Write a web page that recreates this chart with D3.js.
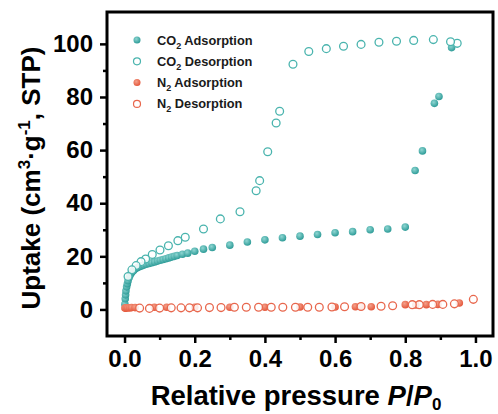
<!DOCTYPE html>
<html>
<head>
<meta charset="utf-8">
<script src="https://cdn.jsdelivr.net/npm/d3@7"></script>
<style>
  body { margin: 0; background: #fff; }
  svg text { font-family: Arial, "Liberation Sans", sans-serif; }
</style>
</head>
<body>
<svg id="chart" width="498" height="414"></svg>
<script>
// CO2 adsorption (filled teal)
const co2AdsP = [0.001,0.002,0.003,0.004,0.006,0.008,0.010,0.013,0.016,0.020,0.025,0.030,0.036,0.042,0.048,0.055,0.062,0.070,0.078,0.086,0.094,0.102,0.110,0.118,0.126,0.134,0.142,0.150,0.165,0.180,0.200,0.225,0.250,0.300,0.350,0.400,0.450,0.500,0.550,0.600,0.650,0.700,0.750,0.800,0.828,0.849,0.883,0.896,0.932];
const co2AdsU = [2.0,4.0,5.5,7.0,8.5,9.7,10.8,12.0,13.0,13.8,14.6,15.2,15.7,16.1,16.4,16.7,17.0,17.3,17.6,17.9,18.2,18.5,18.8,19.1,19.4,19.7,20.0,20.3,20.8,21.2,21.9,22.7,23.3,24.2,25.4,26.2,27.0,27.6,28.2,28.9,29.3,30.0,30.3,31.0,52.3,59.7,77.6,80.2,98.6];

// CO2 desorption (open teal)
const co2DesP = [0.948,0.929,0.880,0.824,0.775,0.725,0.674,0.624,0.575,0.525,0.480,0.442,0.432,0.408,0.385,0.375,0.329,0.273,0.225,0.173,0.152,0.125,0.101,0.079,0.060,0.047,0.033,0.021,0.010];
const co2DesU = [100.2,100.8,101.6,101.3,101.0,100.6,99.8,99.1,98.2,97.1,92.3,74.6,70.2,59.4,48.5,44.7,36.8,34.1,30.3,27.2,25.9,24.0,22.4,20.7,19.0,18.0,16.5,14.9,12.4];

// N2 adsorption (filled red)
const n2AdsP = [0.001,0.003,0.006,0.010,0.015,0.020,0.030,0.085,0.120,0.200,0.300,0.400,0.500,0.600,0.658,0.674,0.703,0.800,0.830,0.860,0.893,0.954];
const n2AdsU = [0.5,0.5,0.6,0.6,0.6,0.7,0.7,0.8,0.8,0.8,0.8,0.8,0.9,0.9,1.0,1.1,1.0,1.8,1.7,1.8,1.9,2.4];

// N2 desorption (open red)
const n2DesP = [0.994,0.940,0.907,0.878,0.840,0.820,0.764,0.731,0.674,0.627,0.591,0.555,0.522,0.487,0.451,0.418,0.382,0.347,0.313,0.275,0.242,0.208,0.185,0.161,0.133,0.100,0.071,0.043];
const n2DesU = [3.8,2.1,1.9,1.9,1.8,1.8,1.4,1.2,1.1,1.0,0.9,0.8,0.8,0.8,0.8,0.8,0.8,0.8,0.8,0.7,0.7,0.6,0.6,0.6,0.6,0.5,0.4,0.5];

const xTicks = [0, 0.2, 0.4, 0.6, 0.8, 1.0];
const xMinor = [0.1, 0.3, 0.5, 0.7, 0.9];
const yTicks = [0, 20, 40, 60, 80, 100];
const yMinor = [10, 30, 50, 70, 90];

const teal = "#2e9c98", tealOpen = "#4ab4ae", red = "#e4563a", redOpen = "#e8674d";

const svg = d3.select("#chart");
const mLeft = 107, mRight = 493, mTop = 12, mBottom = 336;

const x = d3.scaleLinear().domain([-0.05, 1.05]).range([mLeft, mRight]);
const y = d3.scaleLinear().domain([-10, 112]).range([mBottom, mTop]);

// gradients for the shiny filled dots
const defs = svg.append("defs");
function grad(id, light, dark) {
  const g = defs.append("radialGradient").attr("id", id)
    .attr("cx", "40%").attr("cy", "35%").attr("r", "65%");
  g.append("stop").attr("offset", "0%").attr("stop-color", light);
  g.append("stop").attr("offset", "100%").attr("stop-color", dark);
}
grad("gTeal", "#8fd6d2", teal);
grad("gRed", "#f4a08a", red);

// axes
svg.append("g").attr("transform", `translate(0,${mBottom})`)
  .call(d3.axisBottom(x).tickValues(xTicks).tickSize(7).tickPadding(7).tickFormat(d3.format(".1f")));
svg.append("g").attr("transform", `translate(0,${mBottom})`)
  .call(d3.axisBottom(x).tickValues(xMinor).tickSize(4).tickFormat(""));
svg.append("g").attr("transform", `translate(${mLeft},0)`)
  .call(d3.axisLeft(y).tickValues(yTicks).tickSize(7).tickPadding(7));
svg.append("g").attr("transform", `translate(${mLeft},0)`)
  .call(d3.axisLeft(y).tickValues(yMinor).tickSize(4).tickFormat(""));

svg.selectAll(".domain").remove();
svg.selectAll(".tick line").attr("stroke", "#000").attr("stroke-width", 2.5);
svg.selectAll(".tick text").attr("font-size", 24).attr("font-weight", "bold").attr("fill", "#000")
  .style("font-family", "Arial, 'Liberation Sans', sans-serif");

// frame
svg.append("rect").attr("x", mLeft).attr("y", mTop)
  .attr("width", mRight - mLeft).attr("height", mBottom - mTop)
  .attr("fill", "none").attr("stroke", "#000").attr("stroke-width", 3);

// points
function filled(P, U, fill) {
  svg.append("g").selectAll("circle").data(P).enter().append("circle")
    .attr("cx", d => x(d)).attr("cy", (d, i) => y(U[i]))
    .attr("r", 3.8).attr("fill", fill);
}
function open(P, U, stroke) {
  svg.append("g").selectAll("circle").data(P).enter().append("circle")
    .attr("cx", d => x(d)).attr("cy", (d, i) => y(U[i]))
    .attr("r", 3.9).attr("fill", "#fff").attr("fill-opacity", 0.85)
    .attr("stroke", stroke).attr("stroke-width", 1.3);
}
filled(co2AdsP, co2AdsU, "url(#gTeal)");
open(co2DesP, co2DesU, tealOpen);
filled(n2AdsP, n2AdsU, "url(#gRed)");
open(n2DesP, n2DesU, redOpen);

// legend
const legend = [
  { gas: "CO", sub: "2", label: " Adsorption", fill: "url(#gTeal)", stroke: null },
  { gas: "CO", sub: "2", label: " Desorption", fill: "#fff", stroke: tealOpen },
  { gas: "N", sub: "2", label: " Adsorption", fill: "url(#gRed)", stroke: null },
  { gas: "N", sub: "2", label: " Desorption", fill: "#fff", stroke: redOpen }
];
const lg = svg.append("g");
legend.forEach((d, i) => {
  const yy = 40 + i * 21.3;
  lg.append("circle").attr("cx", 137).attr("cy", yy).attr("r", 3.5)
    .attr("fill", d.fill).attr("stroke", d.stroke || "none").attr("stroke-width", 1.2);
  const t = lg.append("text").attr("x", 157).attr("y", yy + 4.5)
    .attr("font-size", 12.8).attr("font-weight", "bold").attr("fill", "#1a1a1a");
  t.append("tspan").text(d.gas);
  t.append("tspan").text(d.sub).attr("font-size", 9).attr("dy", 4);
  t.append("tspan").text(d.label).attr("dy", -4);
});

// axis titles
const xt = svg.append("text").attr("x", 296).attr("y", 405).attr("text-anchor", "middle")
  .attr("font-size", 27.5).attr("font-weight", "bold").attr("fill", "#000");
xt.append("tspan").text("Relative pressure ");
xt.append("tspan").text("P").attr("font-style", "italic");
xt.append("tspan").text("/");
xt.append("tspan").text("P").attr("font-style", "italic");
xt.append("tspan").text("0").attr("font-size", 17).attr("dy", 5);

const yt = svg.append("text").attr("transform", "translate(40,178) rotate(-90)")
  .attr("text-anchor", "middle").attr("font-size", 26).attr("font-weight", "bold").attr("fill", "#000");
yt.append("tspan").text("Uptake (cm");
yt.append("tspan").text("3").attr("font-size", 17).attr("dy", -10);
yt.append("tspan").text("·g").attr("dy", 10);
yt.append("tspan").text("-1").attr("font-size", 17).attr("dy", -10);
yt.append("tspan").text(", STP)").attr("dy", 10);
</script>
</body>
</html>
